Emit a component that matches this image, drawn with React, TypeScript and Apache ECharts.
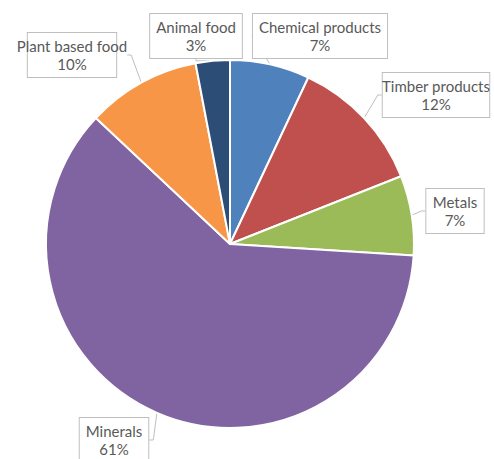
import React, { useEffect, useRef } from "react";
import * as echarts from "echarts";

const categories = ["Chemical products", "Timber products", "Metals", "Minerals", "Plant based food", "Animal food"];
const values = [7, 12, 7, 61, 10, 3];
const colors = ["#4F81BD", "#C0504D", "#9BBB59", "#8064A2", "#F79646", "#2C4D75"];
const labelCenters: [number, number][] = [
  [320, 36],
  [436, 95],
  [455, 211],
  [114, 440],
  [72, 55],
  [196, 36],
];

export default function App() {
  const ref = useRef<HTMLDivElement>(null);
  useEffect(() => {
    document.body.style.margin = "0";
    const chart = echarts.init(ref.current!, null, { renderer: "svg" });
    chart.setOption({
      animation: false,
      backgroundColor: "#ffffff",
      series: [
        {
          type: "pie",
          center: [230, 244],
          radius: 184,
          startAngle: 90,
          clockwise: true,
          data: categories.map((name, i) => ({
            name,
            value: values[i],
            itemStyle: { color: colors[i] },
          })),
          itemStyle: { borderColor: "#ffffff", borderWidth: 2 },
          label: {
            show: true,
            formatter: (p: any) => `${p.name}\n${p.value}%`,
            color: "#595959",
            fontFamily: "Lato",
            fontSize: 15,
            lineHeight: 18,
            align: "center",
            overflow: "none",
            backgroundColor: "#ffffff",
            borderColor: "#bfbfbf",
            borderWidth: 1,
            padding: [4, 6, 4, 6],
          },
          labelLine: {
            show: true,
            length: 6,
            length2: 4,
            lineStyle: { color: "#bfbfbf", width: 1 },
          },
          labelLayout: (params: any) => {
            const [x, y] = labelCenters[params.dataIndex];
            return { x, y, align: "center", verticalAlign: "middle" };
          },
        },
      ],
    });
    return () => chart.dispose();
  }, []);
  return <div ref={ref} style={{ width: 494, height: 459 }} />;
}
